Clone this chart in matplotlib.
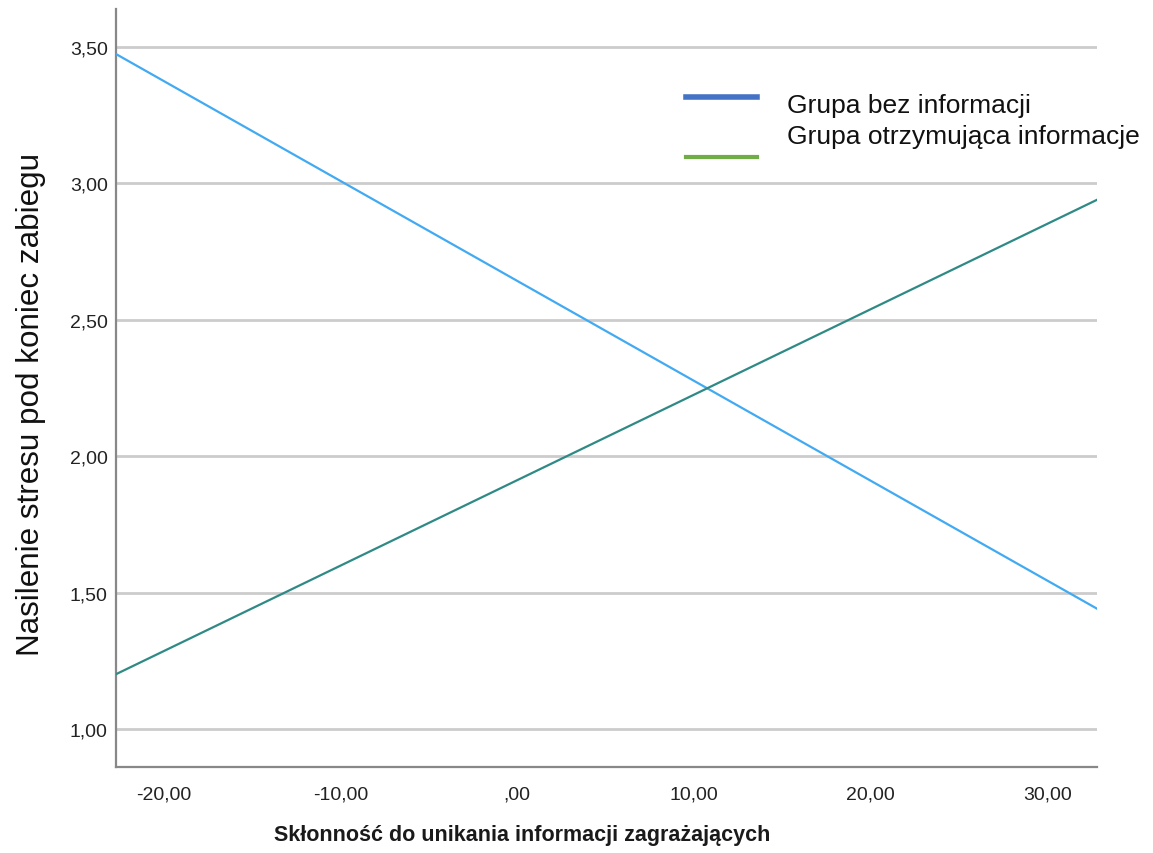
import matplotlib
matplotlib.use("Agg")
import matplotlib.pyplot as plt
from matplotlib.lines import Line2D

plt.rcParams['font.family'] = ['Liberation Sans', 'DejaVu Sans']

# Data
x_range = [-22.7, 32.8]
group_labels = ["Grupa bez informacji", "Grupa otrzymująca informacje"]
bez_info = [3.473, 1.441]
z_info = [1.201, 2.939]
x_ticks = [-20, -10, 0, 10, 20, 30]
x_tick_labels = ["-20,00", "-10,00", ",00", "10,00", "20,00", "30,00"]
y_ticks = [1.0, 1.5, 2.0, 2.5, 3.0, 3.5]
y_tick_labels = ["1,00", "1,50", "2,00", "2,50", "3,00", "3,50"]

fig = plt.figure(figsize=(11.53, 8.54), dpi=100)
W, H = 1153, 854
left, right, top, bottom = 116, 1097, 10, 768
ax = fig.add_axes([left / W, 1 - bottom / H, (right - left) / W, (bottom - top) / H])

ax.set_xlim(x_range)
ax.set_ylim(0.861, 3.638)

for y in y_ticks:
    ax.axhline(y, color='#cccccc', lw=2, zorder=1)

ax.plot(x_range, bez_info, color='#42aaf2', lw=1.6, zorder=3)
ax.plot(x_range, z_info, color='#2f8a86', lw=1.6, zorder=3)

ax.set_xticks(x_ticks)
ax.set_xticklabels(x_tick_labels)
ax.set_yticks(y_ticks)
ax.set_yticklabels(y_tick_labels)
ax.tick_params(axis='both', length=0, labelsize=14, colors='#222222')
ax.tick_params(axis='x', pad=13)
ax.tick_params(axis='y', pad=6)

for s in ['top', 'right']:
    ax.spines[s].set_visible(False)
for s in ['left', 'bottom']:
    ax.spines[s].set_color('#888888')
    ax.spines[s].set_linewidth(1.6)

fig.text(31 / W, 1 - 404 / H, "Nasilenie stresu pod koniec zabiegu", fontsize=22.6,
         rotation=90, ha='center', va='center', color='#111111')
fig.text(522 / W, 1 - 836 / H, "Skłonność do unikania informacji zagrażających",
         fontsize=15.5, fontweight='bold', ha='center', va='center', color='#1a1a1a')

# Legend (manual)
fig.add_artist(Line2D([686 / W, 757 / W], [1 - 98 / H, 1 - 98 / H], color='#4472c4', lw=4))
fig.add_artist(Line2D([686 / W, 757 / W], [1 - 158 / H, 1 - 158 / H], color='#70ad47', lw=3))
fig.text(787 / W, 1 - 106 / H, group_labels[0], fontsize=19, va='center', ha='left', color='#111111')
fig.text(787 / W, 1 - 137 / H, group_labels[1], fontsize=19, va='center', ha='left', color='#111111')

fig.savefig("out.png", dpi=100)
